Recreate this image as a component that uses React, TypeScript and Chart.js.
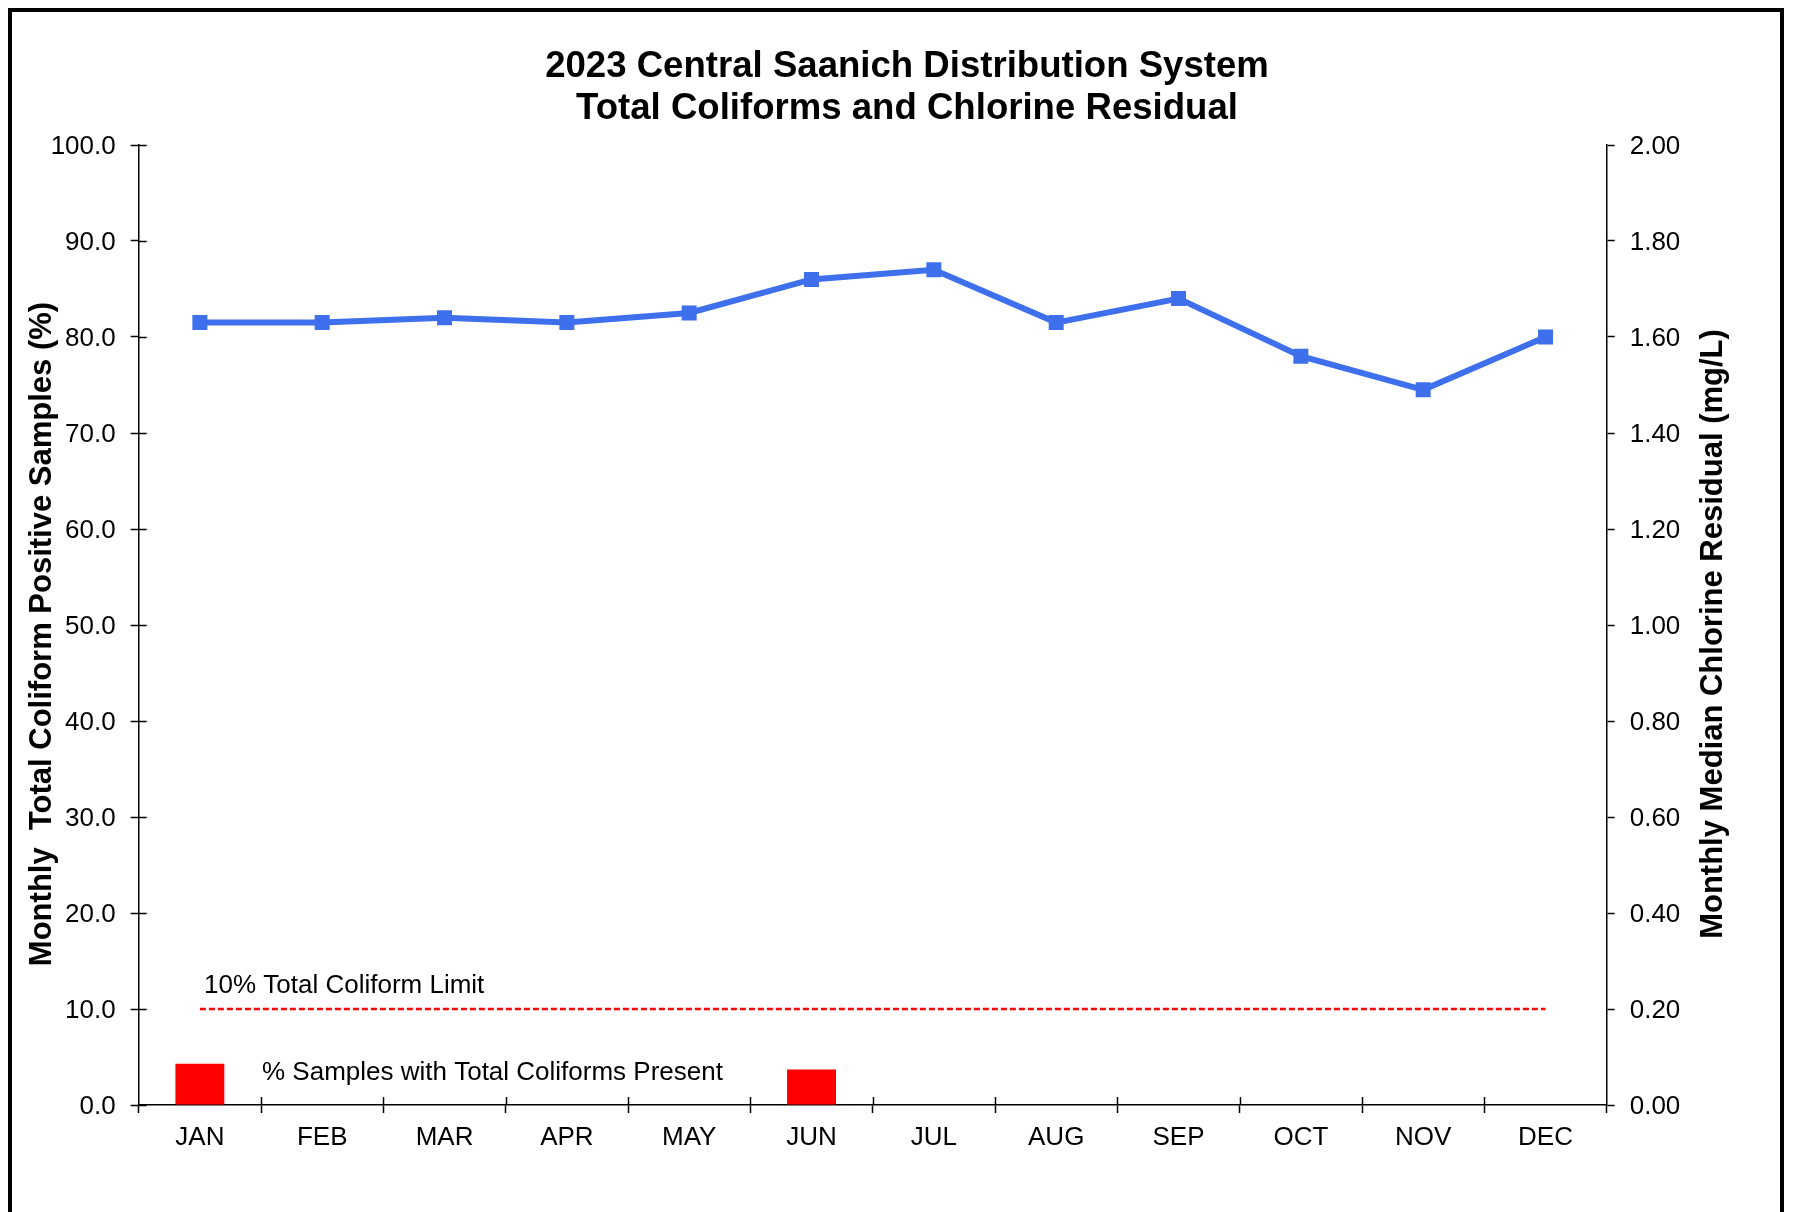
import React, { useEffect, useRef } from "react";
import { Chart, registerables } from "chart.js";

Chart.register(...registerables);

const months = ["JAN", "FEB", "MAR", "APR", "MAY", "JUN", "JUL", "AUG", "SEP", "OCT", "NOV", "DEC"];
const coliformPct = [4.3, 0, 0, 0, 0, 3.7, 0, 0, 0, 0, 0, 0];
const chlorineMedian = [1.63, 1.63, 1.64, 1.63, 1.65, 1.72, 1.74, 1.63, 1.68, 1.56, 1.49, 1.6];
const coliformLimit = [10, 10, 10, 10, 10, 10, 10, 10, 10, 10, 10, 10];
const titleLines = ["2023 Central Saanich Distribution System", "Total Coliforms and Chlorine Residual"];
const leftTitle = "Monthly  Total Coliform Positive Samples (%)";
const rightTitle = "Monthly Median Chlorine Residual (mg/L)";
const limitLabel = "10% Total Coliform Limit";
const barLabel = "% Samples with Total Coliforms Present";

const FONT = '"Liberation Sans", Arial, sans-serif';
const W = 1794;
const H = 1212;

const decorPlugin = {
  id: "decor",
  afterDraw(chart: any) {
    const ctx = chart.ctx;
    const area = chart.chartArea;
    const ys = chart.scales.y;
    ctx.save();
    // inward tick halves (crossing ticks)
    ctx.strokeStyle = "#000";
    ctx.lineWidth = 1.5;
    ys.ticks.forEach((t: any) => {
      const py = Math.round(ys.getPixelForValue(t.value)) + 0.5;
      ctx.beginPath();
      ctx.moveTo(area.left, py);
      ctx.lineTo(area.left + 8, py);
      ctx.stroke();
    });
    const step = (area.right - area.left) / months.length;
    for (let i = 1; i < months.length; i++) {
      const px = Math.round(area.left + step * i) + 0.5;
      ctx.beginPath();
      ctx.moveTo(px, area.bottom);
      ctx.lineTo(px, area.bottom - 8);
      ctx.stroke();
    }
    // title
    ctx.fillStyle = "#000";
    ctx.textAlign = "center";
    ctx.textBaseline = "middle";
    ctx.font = `bold 36.6px ${FONT}`;
    ctx.fillText(titleLines[0], 907, 66.5);
    ctx.fillText(titleLines[1], 907, 108.5);
    // axis titles
    ctx.font = `bold 31px ${FONT}`;
    const midY = (area.top + area.bottom) / 2 + 9;
    ctx.save();
    ctx.translate(42, midY);
    ctx.rotate(-Math.PI / 2);
    ctx.fillText(leftTitle, 0, 0);
    ctx.restore();
    ctx.save();
    ctx.translate(1713, midY);
    ctx.rotate(-Math.PI / 2);
    ctx.fillText(rightTitle, 0, 0);
    ctx.restore();
    // annotations
    ctx.font = `26px ${FONT}`;
    ctx.textAlign = "left";
    ctx.fillText(limitLabel, 204, ys.getPixelForValue(10) - 23.5);
    ctx.fillText(barLabel, 262, ys.getPixelForValue(0) - 32);
    // outer border
    ctx.lineWidth = 4;
    ctx.strokeStyle = "#000";
    ctx.strokeRect(10, 10, 1772, 1300);
    ctx.restore();
  },
};

export default function App() {
  const ref = useRef<HTMLCanvasElement | null>(null);
  useEffect(() => {
    if (!ref.current) return;
    const chart = new Chart(ref.current, {
      type: "bar",
      data: {
        labels: months,
        datasets: [
          {
            type: "line",
            label: "Chlorine Residual",
            data: chlorineMedian,
            yAxisID: "y1",
            borderColor: "#3E6FEC",
            backgroundColor: "#3E6FEC",
            borderWidth: 6,
            pointStyle: "rect",
            pointRadius: 10.6,
            pointBorderWidth: 0,
            pointBackgroundColor: "#3E6FEC",
            tension: 0,
            order: 1,
          } as any,
          {
            type: "line",
            label: limitLabel,
            data: coliformLimit,
            yAxisID: "y",
            borderColor: "#FF0000",
            borderWidth: 2.5,
            borderDash: [6, 3],
            pointRadius: 0,
            order: 2,
          } as any,
          {
            type: "bar",
            label: barLabel,
            data: coliformPct,
            yAxisID: "y",
            backgroundColor: "#FF0000",
            borderWidth: 0,
            barPercentage: 0.4,
            categoryPercentage: 1.0,
            order: 3,
          } as any,
        ],
      },
      options: {
        animation: false,
        responsive: true,
        maintainAspectRatio: false,
        devicePixelRatio: 1,
        layout: { padding: { top: 145, left: 0, right: 0, bottom: 0 } },
        plugins: {
          legend: { display: false },
          title: { display: false },
          tooltip: { enabled: false },
        },
        scales: {
          x: {
            type: "category",
            offset: true,
            grid: {
              display: true,
              drawOnChartArea: false,
              drawTicks: true,
              tickLength: 8,
              tickColor: "#000",
              tickWidth: 1.5,
              offset: true,
            },
            border: { display: true, color: "#000", width: 1.5 },
            ticks: {
              color: "#000",
              font: { family: FONT, size: 26 },
              padding: 9,
              maxRotation: 0,
              autoSkip: false,
            },
            afterFit: (s: any) => {
              s.height = H - 1105;
            },
          },
          y: {
            type: "linear",
            position: "left",
            min: 0,
            max: 100,
            grid: {
              display: true,
              drawOnChartArea: false,
              drawTicks: true,
              tickLength: 8,
              tickColor: "#000",
              tickWidth: 1.5,
            },
            border: { display: true, color: "#000", width: 1.5 },
            ticks: {
              stepSize: 10,
              color: "#000",
              font: { family: FONT, size: 26 },
              padding: 15,
              labelOffset: 2,
              callback: (v: any) => Number(v).toFixed(1),
            },
            afterFit: (s: any) => {
              s.width = 138.7;
            },
          },
          y1: {
            type: "linear",
            position: "right",
            min: 0,
            max: 2,
            grid: {
              display: true,
              drawOnChartArea: false,
              drawTicks: true,
              tickLength: 8,
              tickColor: "#000",
              tickWidth: 1.5,
            },
            border: { display: true, color: "#000", width: 1.5 },
            ticks: {
              stepSize: 0.2,
              color: "#000",
              font: { family: FONT, size: 26 },
              padding: 15,
              labelOffset: 2,
              callback: (v: any) => Number(v).toFixed(2),
            },
            afterFit: (s: any) => {
              s.width = W - 1606.7;
            },
          },
        },
      },
      plugins: [decorPlugin],
    });
    return () => chart.destroy();
  }, []);
  return (
    <div
      style={{
        position: "fixed",
        left: 0,
        top: 0,
        width: W,
        height: H,
        background: "#fff",
      }}
    >
      <canvas ref={ref} />
    </div>
  );
}
